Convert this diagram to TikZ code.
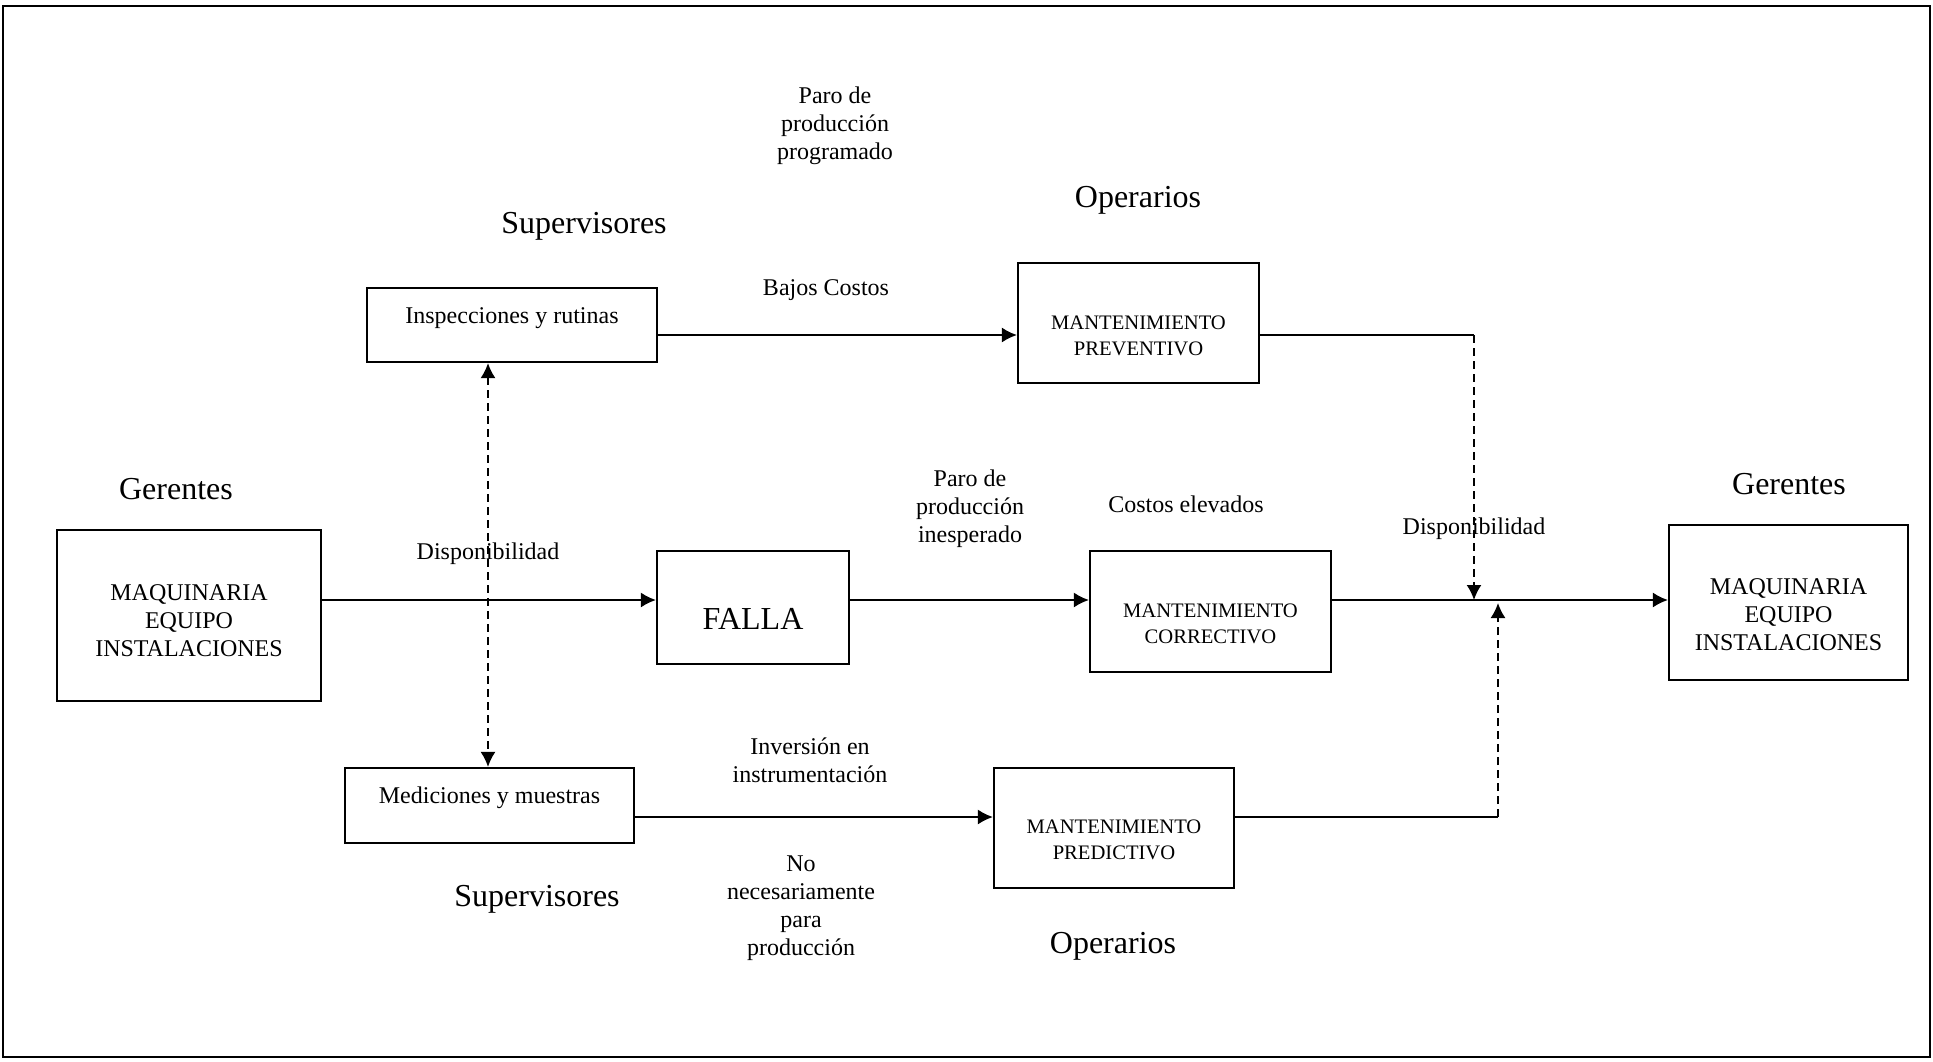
\documentclass[tikz,border=0pt]{standalone}
\usepackage{fontspec}
\setmainfont{Liberation Serif}
\usetikzlibrary{arrows.meta}
\begin{document}
\begin{tikzpicture}[x=0.5pt,y=-0.5pt,>={Latex[length=7.5pt,width=7.5pt]},line width=0.9pt,
    box/.style={draw,line width=1.1pt,inner sep=0pt},
    sm/.style={font=\fontsize{12}{14}\selectfont,align=center,inner sep=0pt},
    mt/.style={font=\fontsize{10.3}{13}\selectfont,align=center,inner sep=0pt},
    big/.style={font=\fontsize{16}{19}\selectfont,inner sep=0pt},
    dsh/.style={dash pattern=on 4pt off 2.5pt}]
    \useasboundingbox (0,0) rectangle (1933,1061);
    \draw (3,6) rectangle (1930,1057);
    \coordinate (lvl) at (0,600);
    \coordinate (r1) at (0,335);
    \coordinate (r3) at (0,817);
    \coordinate (dv) at (488,0);
    \coordinate (jA) at (1474,600);
    \coordinate (jB) at (1498,600);
    \node[box,minimum width=132pt,minimum height=85.5pt,label={[sm,name=mqLt,yshift=-2.5pt]center:{MAQUINARIA\\EQUIPO\\INSTALACIONES}}] (mqL) at (189,615.5) {};
    \node[box,minimum width=145pt,minimum height=37pt,label={[sm,name=inspt,yshift=3.5pt]center:Inspecciones y rutinas}] (insp) at (512,325) {};
    \node[box,minimum width=96pt,minimum height=56.5pt,label={[big,name=fallat,yshift=-5.75pt]center:FALLA}] (falla) at (753,607.5) {};
    \node[box,minimum width=120.5pt,minimum height=60pt,label={[mt,name=prevt,yshift=-6.5pt]center:{MANTENIMIENTO\\PREVENTIVO}}] (prev) at (1138.5,323) {};
    \node[box,minimum width=120.5pt,minimum height=60.5pt,label={[mt,name=corrt,yshift=-6pt]center:{MANTENIMIENTO\\CORRECTIVO}}] (corr) at (1210.5,611.5) {};
    \node[box,minimum width=120pt,minimum height=60pt,label={[mt,name=predt,yshift=-6pt]center:{MANTENIMIENTO\\PREDICTIVO}}] (pred) at (1114,828) {};
    \node[box,minimum width=144.5pt,minimum height=37.5pt,label={[sm,name=medt,yshift=3.75pt]center:Mediciones y muestras}] (med) at (489.5,805.5) {};
    \node[box,minimum width=119.5pt,minimum height=77.5pt,label={[sm,name=mqRt,yshift=-6pt]center:{MAQUINARIA\\EQUIPO\\INSTALACIONES}}] (mqR) at (1788.5,602.5) {};
    \node[big] (gerL) at (176,489) {Gerentes};
    \node[big] (supA) at (584,226) {Supervisores};
    \node[sm] (paroA) at (835,126) {Paro de\\producción\\programado};
    \node[sm] (bajos) at (826,290) {Bajos Costos};
    \node[big] (opA) at (1138,200) {Operarios};
    \node[sm] (paroB) at (970,509) {Paro de\\producción\\inesperado};
    \node[sm] (costos) at (1186,504) {Costos elevados};
    \node[sm] (dispL) at (488,554) {Disponibilidad};
    \node[sm] (dispR) at (1474,529) {Disponibilidad};
    \node[big] (gerR) at (1789,484) {Gerentes};
    \node[sm] (inv) at (810,760) {Inversión en\\instrumentación};
    \node[big] (supB) at (537,899) {Supervisores};
    \node[sm] (noNec) at (801,908) {No\\necesariamente\\para\\producción};
    \node[big] (opB) at (1113,946) {Operarios};
    \draw[->] (mqL.east |- lvl) -- (falla.west |- lvl);
    \draw[->] (falla.east |- lvl) -- (corr.west |- lvl);
    \draw[->] (corr.east |- lvl) -- (mqR.west |- lvl);
    \draw[->] (insp.east |- r1) -- (prev.west |- r1);
    \draw[->] (med.east |- r3) -- (pred.west |- r3);
    \draw (prev.east |- r1) -- (jA |- r1);
    \draw[dsh,->] (jA |- r1) -- (jA);
    \draw (pred.east |- r3) -- (jB |- r3);
    \draw[dsh,->] (jB |- r3) -- ([yshift=-1.5pt]jB);
    \draw[dsh,<->] (insp.south -| dv) -- (med.north -| dv);
\end{tikzpicture}
\end{document}
